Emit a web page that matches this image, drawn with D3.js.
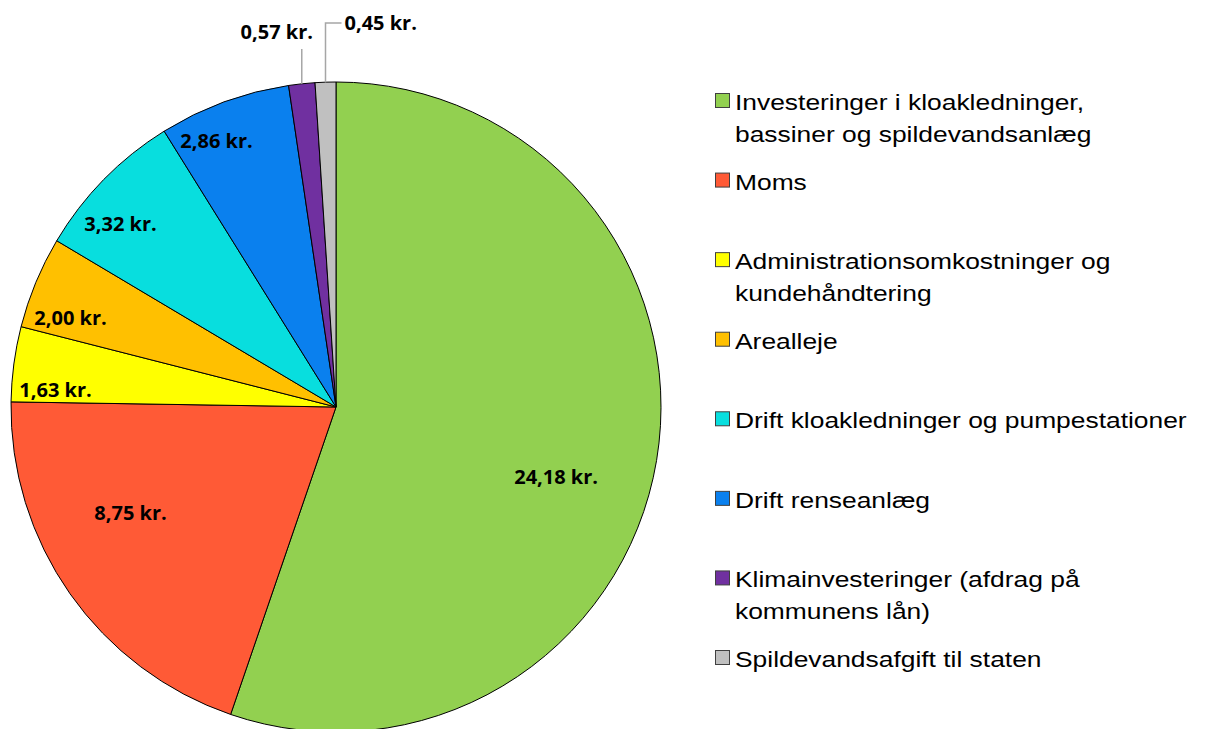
<!DOCTYPE html>
<html>
<head>
<meta charset="utf-8">
<script src="https://cdn.jsdelivr.net/npm/d3@7/dist/d3.min.js"></script>
<style>
  body { margin: 0; background: #fff; }
  svg { display: block; }
</style>
</head>
<body>
<svg width="1208" height="729"></svg>
<script>
// data
var categories = ["Investeringer i kloakledninger, bassiner og spildevandsanlæg", "Moms",
    "Administrationsomkostninger og kundehåndtering", "Arealleje",
    "Drift kloakledninger og pumpestationer", "Drift renseanlæg",
    "Klimainvesteringer (afdrag på kommunens lån)", "Spildevandsafgift til staten"];
var legendLines = [["Investeringer i kloakledninger,", "bassiner og spildevandsanlæg"], ["Moms"],
    ["Administrationsomkostninger og", "kundehåndtering"], ["Arealleje"],
    ["Drift kloakledninger og pumpestationer"], ["Drift renseanlæg"],
    ["Klimainvesteringer (afdrag på", "kommunens lån)"], ["Spildevandsafgift til staten"]];
var values = [24.18, 8.75, 1.63, 2.00, 3.32, 2.86, 0.57, 0.45];
var colors = ["#92d050", "#ff5a36", "#ffff00", "#ffc000", "#08dede", "#0a80ee", "#7030a0", "#c0c0c0"];

var svg = d3.select('svg');
var cx = 336, cy = 407, R = 325;

var fmt = function(v){ return d3.format('.2f')(v).replace('.', ',') + ' kr.'; };

var pie = d3.pie().sort(null).value(function(d){ return d.value; });
var arc = d3.arc().innerRadius(0).outerRadius(R);

var data = values.map(function(v, i){ return {name: categories[i], value: v, color: colors[i]}; });
var arcs = pie(data);
var total = d3.sum(values);

var g = svg.append('g').attr('transform', 'translate(' + cx + ',' + cy + ')');

g.selectAll('path.slice')
    .data(arcs)
    .enter()
    .append('path')
    .attr('class', 'slice')
    .attr('d', arc)
    .attr('fill', function(d){ return d.data.color; })
    .attr('stroke', '#000')
    .attr('stroke-width', 1);

// labels
var labelFont = {family: "'Open Sans', sans-serif", size: 20};
var deg = Math.PI / 180;

arcs.forEach(function(d){
    var frac = d.value / total;
    var mid = (d.startAngle + d.endAngle) / 2;
    var txt = fmt(d.value);

    if (frac < 0.02) {
        // outside label with leader line
        var x0 = Math.sin(mid) * R, y0 = -Math.cos(mid) * R;
        var line = g.append('polyline')
            .attr('fill', 'none')
            .attr('stroke', '#a6a6a6')
            .attr('stroke-width', 1.5);
        if (d.index === 6) {
            line.attr('points', [[x0, y0], [x0, -R - 33]].join(' '));
            g.append('text').text(txt)
                .attr('x', x0 - 25).attr('y', -R - 43)
                .attr('text-anchor', 'middle')
                .style('font-family', labelFont.family).style('font-weight', 700)
                .style('font-size', labelFont.size + 'px');
        } else {
            line.attr('points', [[x0, y0], [x0, -R - 59], [x0 + 16, -R - 59]].join(' '));
            g.append('text').text(txt)
                .attr('x', x0 + 19).attr('y', -R - 59 + 7)
                .attr('text-anchor', 'start')
                .style('font-family', labelFont.family).style('font-weight', 700)
                .style('font-size', labelFont.size + 'px');
        }
        return;
    }

    var t = g.append('text').text(txt)
        .attr('text-anchor', 'middle')
        .attr('dominant-baseline', 'central')
        .style('font-family', labelFont.family).style('font-weight', 700)
        .style('font-size', labelFont.size + 'px');

    var px, py, a;
    if (frac > 0.15) {
        a = mid + 8 * deg;
        px = Math.sin(a) * R * 0.71; py = -Math.cos(a) * R * 0.71;
    } else {
        // inside end: push box out until its far corner touches the rim
        a = mid - 4 * deg;
        var ux = Math.sin(a), uy = -Math.cos(a);
        var w = t.node().getComputedTextLength() / 2, h = 10, pad = 8, dd = 0;
        for (dd = 0; dd < R; dd += 1) {
            var ex = dd * ux + Math.sign(ux) * w, ey = dd * uy + Math.sign(uy) * h;
            if (Math.sqrt(ex * ex + ey * ey) > R - pad) break;
        }
        px = ux * dd; py = uy * dd;
    }
    t.attr('x', px).attr('y', py);
});

// legend
var legendY = d3.scaleLinear().domain([0, 7]).range([110, 667]);
var legend = svg.append('g');

legendLines.forEach(function(lines, i){
    var y = legendY(i);
    legend.append('rect')
        .attr('x', 715.5).attr('y', y - 16.5)
        .attr('width', 14).attr('height', 14)
        .attr('fill', colors[i])
        .attr('stroke', '#404040')
        .attr('stroke-width', 1);
    var t = legend.append('text')
        .attr('transform', 'translate(735,0) scale(1.2,1)')
        .style('font-family', "'Liberation Sans', Arial, sans-serif")
        .style('font-size', '22px')
        .attr('fill', '#000');
    lines.forEach(function(l, j){
        t.append('tspan').attr('x', 0).attr('y', y + j * 32).text(l);
    });
});
</script>
</body>
</html>
